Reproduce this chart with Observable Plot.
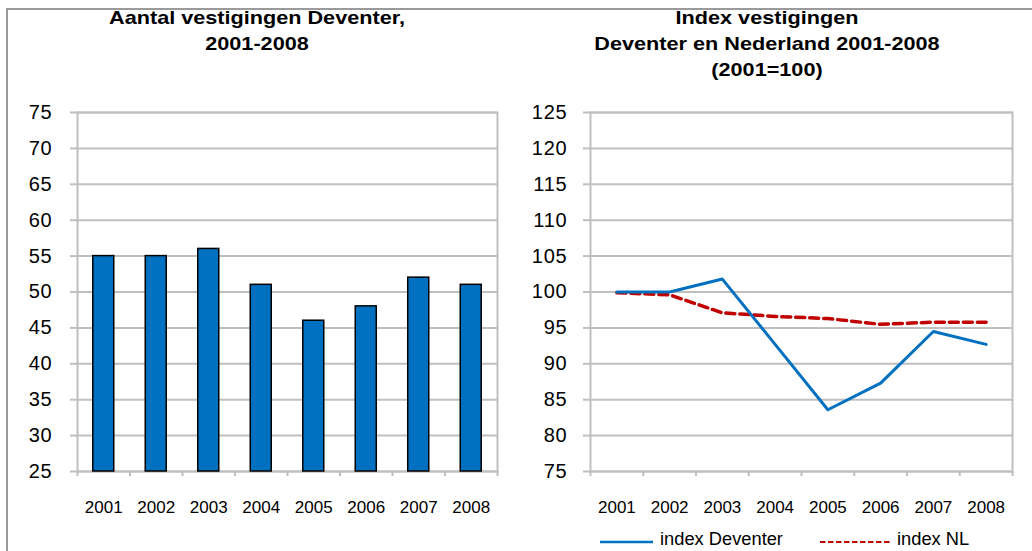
<!DOCTYPE html>
<html>
<head>
<meta charset="utf-8">
<script src="https://cdn.jsdelivr.net/npm/d3@7"></script>
<script src="https://cdn.jsdelivr.net/npm/@observablehq/plot@0.6"></script>
<style>
  html, body { margin: 0; padding: 0; background: #fff; }
  #root { position: relative; width: 1032px; height: 551px; overflow: hidden; font-family: "Liberation Sans", Arial, sans-serif; color: #000; }
  .frame { position: absolute; left: 6px; top: 8px; width: 1100px; height: 700px; border: 2px solid #9a9a9a; box-sizing: border-box; }
  .title { position: absolute; top: 5px; width: 516px; text-align: center; font-weight: bold; font-size: 18.5px; line-height: 26px; transform: scaleX(1.17); transform-origin: 50% 0; }
  .panel { position: absolute; top: 0; }
  .legend { position: absolute; top: 529px; left: 0; width: 1032px; height: 22px; font-size: 18.3px; line-height: 20px; }
  .legend svg { position: absolute; }
  .legend span { position: absolute; top: 0px; white-space: nowrap; }
  g[aria-label="y-axis tick label"] text { letter-spacing: 0.8px; }
</style>
</head>
<body>
<div id="root">
  <div class="frame"></div>
  <div class="title" style="left:-1.5px;">Aantal vestigingen Deventer,<br>2001-2008</div>
  <div class="title" style="left:508.5px;">Index vestigingen<br>Deventer en Nederland 2001-2008<br>(2001=100)</div>
  <div class="panel" id="left" style="left:0px;"></div>
  <div class="panel" id="right" style="left:516px;"></div>
  <div class="legend">
    <svg style="left:600px; top:0px;" width="54" height="22"><line x1="0" x2="53" y1="13" y2="13" stroke="#0070C0" stroke-width="2.5"/></svg>
    <span style="left:660px;">index Deventer</span>
    <svg style="left:820px; top:0px;" width="72" height="22"><line x1="0" x2="70" y1="13" y2="13" stroke="#C00000" stroke-width="2" stroke-dasharray="5.5,2.5"/></svg>
    <span style="left:897px;">index NL</span>
  </div>
</div>
<script>
const years = [2001, 2002, 2003, 2004, 2005, 2006, 2007, 2008];
const vestigingen = [55, 55, 56, 51, 46, 48, 52, 51];
const indexDeventer = [100, 100, 101.8, 92.7, 83.6, 87.3, 94.5, 92.7];
const indexNL = [99.9, 99.6, 97.1, 96.6, 96.3, 95.5, 95.8, 95.8];
const leftTicks = [25, 30, 35, 40, 45, 50, 55, 60, 65, 70, 75];
const rightTicks = [75, 80, 85, 90, 95, 100, 105, 110, 115, 120, 125];

const boundaries = years.map(y => y - 0.5).concat([years[years.length - 1] + 0.5]);
const barData = years.map((year, i) => ({year, value: vestigingen[i]}));
const lineData = years.map((year, i) => ({year, deventer: indexDeventer[i], nl: indexNL[i]}));

const GRID = "#bfbfbf";
const style = {fontFamily: "'Liberation Sans', Arial, sans-serif", fontSize: "17px", color: "#000", background: "transparent", overflow: "visible"};
const xDomain = [boundaries[0], boundaries[boundaries.length - 1]];

const left = Plot.plot({
  width: 516, height: 551,
  marginLeft: 77, marginRight: 19, marginTop: 112, marginBottom: 80,
  style,
  x: {type: "linear", domain: xDomain},
  y: {domain: [25, 75]},
  marks: [
    Plot.gridY(leftTicks, {stroke: GRID, strokeOpacity: 1, strokeWidth: 2}),
    Plot.frame({stroke: GRID, strokeWidth: 2}),
    Plot.axisY({ticks: leftTicks, tickSize: 7, tickPadding: 18, stroke: GRID, strokeWidth: 2, fontSize: 20, label: null}),
    Plot.axisX({ticks: boundaries, tickSize: 5, tickFormat: () => "", stroke: GRID, strokeWidth: 2, label: null}),
    Plot.axisX({ticks: years, tickSize: 0, tickPadding: 29, tickFormat: d => String(d), label: null}),
    Plot.rectY(barData, {x1: d => d.year - 0.2, x2: d => d.year + 0.2, y1: 25, y2: "value", fill: "#0070C0", stroke: "#000", strokeWidth: 1.5})
  ]
});
document.getElementById("left").appendChild(left);

const right = Plot.plot({
  width: 516, height: 551,
  marginLeft: 74, marginRight: 20, marginTop: 112, marginBottom: 80,
  style,
  x: {type: "linear", domain: xDomain},
  y: {domain: [75, 125]},
  marks: [
    Plot.gridY(rightTicks, {stroke: GRID, strokeOpacity: 1, strokeWidth: 2}),
    Plot.frame({stroke: GRID, strokeWidth: 2}),
    Plot.axisY({ticks: rightTicks, tickSize: 7, tickPadding: 16, stroke: GRID, strokeWidth: 2, fontSize: 20, label: null}),
    Plot.axisX({ticks: boundaries, tickSize: 5, tickFormat: () => "", stroke: GRID, strokeWidth: 2, label: null}),
    Plot.axisX({ticks: years, tickSize: 0, tickPadding: 29, tickFormat: d => String(d), label: null}),
    Plot.lineY(lineData, {x: "year", y: "nl", stroke: "#C00000", strokeWidth: 3.5, strokeDasharray: "9,5"}),
    Plot.lineY(lineData, {x: "year", y: "deventer", stroke: "#0070C0", strokeWidth: 3})
  ]
});
document.getElementById("right").appendChild(right);
</script>
</body>
</html>
